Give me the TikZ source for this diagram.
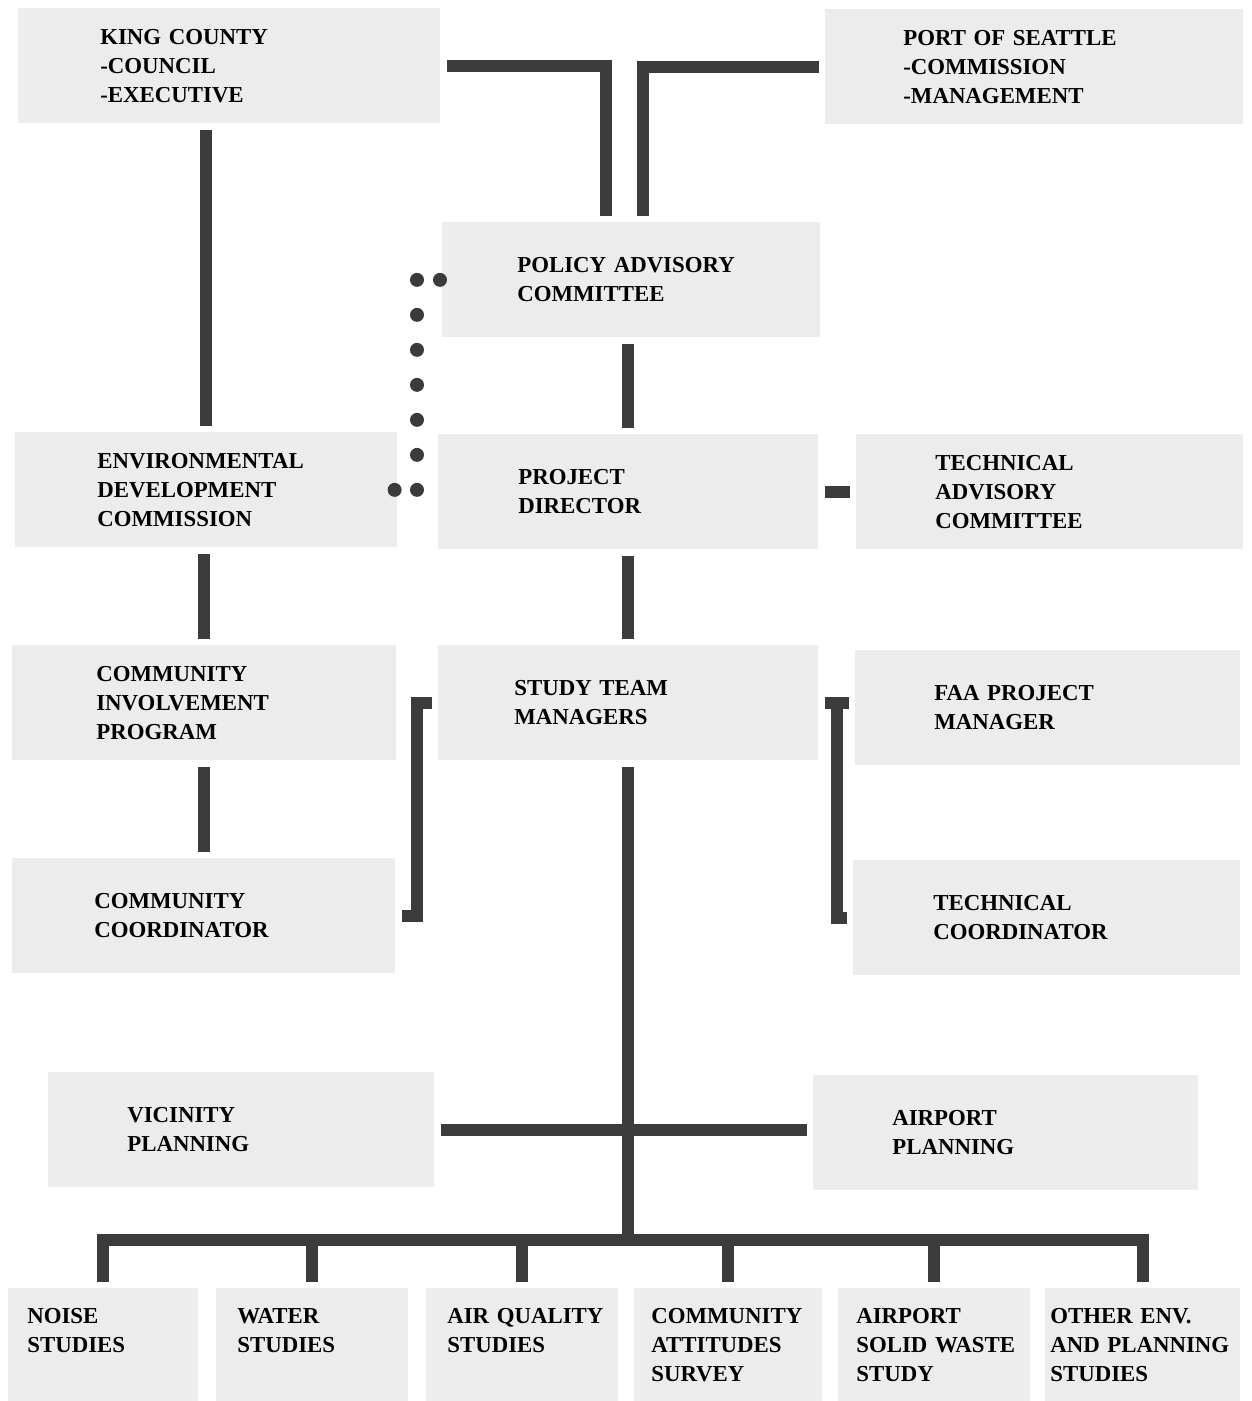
\documentclass[tikz,border=0pt]{standalone}
\usepackage{fontspec}
\setmainfont{Liberation Serif}
\usetikzlibrary{calc}

\definecolor{boxgray}{HTML}{ECECEC}
\definecolor{linkgray}{HTML}{3B3B3B}
\newcommand{\orgfont}{\fontsize{13}{16.5}\selectfont\bfseries\hyphenpenalty=10000}

\tikzstyle{orgbox} = [rectangle, anchor=north west, align=left, inner ysep=0pt, minimum height=2.3cm, fill=boxgray, font=\orgfont]
\tikzstyle{studybox} = [orgbox, minimum height=2.26cm]
\tikzstyle{link} = [draw=linkgray, line width=0.24cm, line join=miter, shorten <=0.12cm, shorten >=0.12cm]
\tikzstyle{dot} = [fill=linkgray]

\begin{document}
\begin{tikzpicture}[x=0.02cm, y=-0.02cm]
	\useasboundingbox (0,0) rectangle (1252,1401);

	% boxes
	\node (kc) [orgbox, inner xsep=1.64cm, text width=5.16cm] at (18,8) {KING~COUNTY\\-COUNCIL\\-EXECUTIVE};
	\node (port) [orgbox, inner xsep=1.56cm, text width=5.24cm] at (825,9) {PORT~OF~SEATTLE\\-COMMISSION\\-MANAGEMENT};
	\node (pac) [orgbox, inner xsep=1.5cm, text width=4.56cm] at (442,222) {POLICY~ADVISORY\\COMMITTEE};
	\node (edc) [orgbox, inner xsep=1.64cm, text width=4.36cm] at (15,432) {ENVIRONMENTAL\\DEVELOPMENT\\COMMISSION};
	\node (pd) [orgbox, inner xsep=1.6cm, text width=4.4cm] at (438,434) {PROJECT\\DIRECTOR};
	\node (tac) [orgbox, inner xsep=1.58cm, text width=4.58cm] at (856,434) {TECHNICAL\\ADVISORY\\COMMITTEE};
	\node (cip) [orgbox, inner xsep=1.68cm, text width=4.32cm] at (12,645) {COMMUNITY\\INVOLVEMENT\\PROGRAM};
	\node (stm) [orgbox, inner xsep=1.52cm, text width=4.56cm] at (438,645) {STUDY~TEAM\\MANAGERS};
	\node (faa) [orgbox, inner xsep=1.58cm, text width=4.54cm] at (855,650) {FAA~PROJECT\\MANAGER};
	\node (cc) [orgbox, inner xsep=1.64cm, text width=4.38cm] at (12,858) {COMMUNITY\\COORDINATOR};
	\node (tc) [orgbox, inner xsep=1.6cm, text width=4.54cm] at (853,860) {TECHNICAL\\COORDINATOR};
	\node (vp) [orgbox, inner xsep=1.58cm, text width=4.56cm] at (48,1072) {VICINITY\\PLANNING};
	\node (ap) [orgbox, inner xsep=1.58cm, text width=4.54cm] at (813,1075) {AIRPORT\\PLANNING};

	\node (s1) [studybox, inner xsep=0.38cm, text width=3.04cm] at (8,1288) {NOISE\\STUDIES\\~};
	\node (s2) [studybox, inner xsep=0.42cm, text width=3.0cm] at (216,1288) {WATER\\STUDIES\\~};
	\node (s3) [studybox, inner xsep=0.42cm, text width=3.0cm] at (426,1288) {\mbox{AIR QUALITY}\\STUDIES\\~};
	\node (s4) [studybox, inner xsep=0.34cm, text width=3.08cm] at (634,1288) {COMMUNITY\\ATTITUDES\\SURVEY};
	\node (s5) [studybox, inner xsep=0.36cm, text width=3.12cm] at (838,1288) {AIRPORT\\\mbox{SOLID WASTE}\\STUDY};
	\node (s6) [studybox, inner xsep=0.1cm, text width=3.7cm] at (1045,1288) {\mbox{OTHER ENV.}\\\mbox{AND PLANNING}\\STUDIES};

	% connectors
	\draw [link] (kc.east) -| ([xshift=-0.5cm]pac.north);
	\draw [link] (port.west) -| ([xshift=0.24cm]pac.north);
	\draw [link] (edc.north |- kc.south) -- (edc.north);
	\draw [link] (pd.north |- pac.south) -- (pd.north);
	\draw [link] (cip.north |- edc.south) -- (cip.north);
	\draw [link] (cc.north |- cip.south) -- (cc.north);
	\draw [link] (pd.east) -- (tac.west);
	\draw [link] (stm.north |- pd.south) -- (stm.north);
	\draw [link] (stm.west) -| ($(stm.west)!0.5!(cc.east)$) |- (cc.east);
	\draw [link] (stm.east) -- (stm.east -| faa.west);
	\draw [link, shorten <=0cm] ($(stm.east)!0.5!(stm.east -| faa.west)$) |- (tc.west);
	\draw [link] (vp.east) -- (vp.east -| ap.west);

	% dotted link
	\coordinate (dtop) at ([xshift=-0.5cm]pac.west);
	\coordinate (dbot) at (dtop |- edc.east);
	\fill [dot] ([xshift=-0.04cm]pac.west) circle (0.14cm);
	\foreach \i in {0,...,6}
		\fill [dot] ($(dtop)!\i/6!(dbot)$) circle (0.14cm);
	\fill [dot] ([xshift=-0.06cm]edc.east) circle (0.14cm);

	% study branches
	\coordinate (bus) at (stm.south |- 0,1240);
	\draw [link] (stm.south) -- (bus);
	\draw [link] (s1.north) |- (bus) -| (s6.north);
	\foreach \s in {s2,s3,s4,s5}
		\draw [link, shorten <=0cm] (bus -| \s.north) -- (\s.north);
\end{tikzpicture}
\end{document}
